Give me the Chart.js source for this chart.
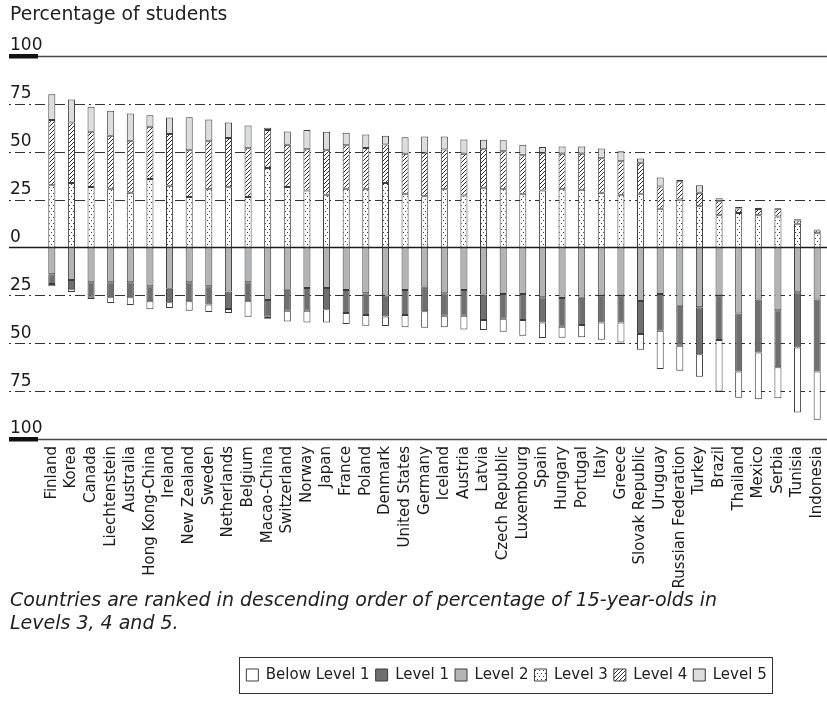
<!DOCTYPE html>
<html><head><meta charset="utf-8">
<style>html,body{margin:0;padding:0;background:#fff;}#wrap{width:827px;height:719px;}</style>
<script src="https://cdn.jsdelivr.net/npm/chart.js@4.4.0/dist/chart.umd.min.js"></script>
</head><body><div id="wrap"><canvas id="c" width="827" height="719"></canvas></div>
<script>
const countries = ['Finland','Korea','Canada','Liechtenstein','Australia','Hong Kong-China','Ireland','New Zealand','Sweden','Netherlands','Belgium','Macao-China','Switzerland','Norway','Japan','France','Poland','Denmark','United States','Germany','Iceland','Austria','Latvia','Czech Republic','Luxembourg','Spain','Hungary','Portugal','Italy','Greece','Slovak Republic','Uruguay','Russian Federation','Turkey','Brazil','Thailand','Mexico','Serbia','Tunisia','Indonesia'];
const level3 = [32.5,33.7,31.6,30.7,28.6,35.8,32.3,26.4,30.4,31.4,26.4,41.5,31.6,29.7,27.6,30.7,30.7,33.7,28.1,26.7,30.4,27.2,31.2,30.4,28.1,29.8,30.4,30.2,28.6,27.6,28.1,20.2,25.0,21.5,16.8,18.0,16.8,16.2,12.4,7.5];
const level4 = [34.0,31.6,28.8,27.6,27.1,27.2,26.9,24.4,25.1,25.8,25.4,19.8,22.0,21.6,23.2,22.7,21.3,20.1,20.9,22.7,20.7,21.8,20.1,19.9,20.1,19.6,18.6,18.8,18.0,17.4,16.2,11.7,9.6,7.1,7.3,2.4,3.3,4.0,1.7,1.4];
const level5 = [13.5,12.0,13.1,13.1,14.3,6.0,8.7,17.2,11.3,8.1,11.9,1.2,7.0,10.0,9.6,6.5,7.0,4.5,8.6,8.5,6.8,7.4,4.9,5.7,5.4,3.1,3.7,3.7,5.1,5.3,2.1,4.7,0.8,3.9,1.6,0.7,0.5,0.4,0.7,0.5];
const level2 = [14.0,17.0,18.2,18.2,18.2,20.2,21.6,18.2,20.2,23.0,18.2,27.4,22.0,21.1,21.1,22.2,23.9,25.1,22.2,20.4,23.9,22.2,24.5,24.3,24.3,26.0,26.4,26.2,25.1,25.1,27.9,24.3,30.4,31.2,25.1,34.4,27.1,32.8,23.4,27.2];
const level1 = [5.0,4.8,7.5,7.8,7.8,7.9,7.0,9.9,9.6,9.1,9.9,8.7,11.0,11.9,11.2,12.0,11.4,10.9,13.1,12.9,11.7,13.4,13.4,12.9,13.6,13.1,15.0,14.3,14.0,14.0,17.3,19.2,20.9,24.5,23.2,30.3,27.7,29.7,28.8,37.5];
const belowLevel1 = [1.2,1.4,1.2,3.0,4.0,4.2,3.0,4.9,3.9,2.1,8.0,1.1,5.6,6.1,6.8,5.8,5.5,5.0,6.4,8.6,6.1,7.2,5.2,6.8,8.2,8.2,5.7,6.4,9.1,10.5,8.2,20.0,13.1,11.8,26.9,13.7,24.4,16.2,34.0,25.3];
const yTickValues = [-100,-75,-50,-25,0,25,50,75,100];
const legendOrder = ['Below Level 1','Level 1','Level 2','Level 3','Level 4','Level 5'];
const titleText = 'Percentage of students';
const noteLines = ['Countries are ranked in descending order of percentage of 15-year-olds in','Levels 3, 4 and 5.'];

const FONT = "'DejaVu Sans', sans-serif";

function dotPattern(){
  const c = document.createElement('canvas'); c.width = 4; c.height = 6;
  const x = c.getContext('2d');
  x.fillStyle = '#ffffff'; x.fillRect(0,0,4,6);
  x.fillStyle = '#3a3a3a'; x.fillRect(1,1,1,1); x.fillRect(3,4,1,1);
  return x.createPattern(c,'repeat');
}
function hatchPattern(){
  const c = document.createElement('canvas'); c.width = 4; c.height = 4;
  const x = c.getContext('2d');
  x.fillStyle = '#ffffff'; x.fillRect(0,0,4,4);
  x.strokeStyle = '#303030'; x.lineWidth = 1;
  x.beginPath();
  x.moveTo(0,4); x.lineTo(4,0);
  x.moveTo(-1,1); x.lineTo(1,-1);
  x.moveTo(3,5); x.lineTo(5,3);
  x.stroke();
  return x.createPattern(c,'repeat');
}
const dots = dotPattern();
const hatch = hatchPattern();
const neg = a => a.map(v => -v);
const common = {borderColor:'#3c3c3c', borderWidth:1, borderSkipped:false, barPercentage:0.36, categoryPercentage:1};

const refPlugin = {
  id:'refPlugin',
  afterLayout(chart){
    const lg = chart.legend;
    if (lg){ const dx = 88; lg.left += dx; lg.right += dx; }
  },
  beforeDatasetsDraw(chart){
    const {ctx, chartArea:ca, scales:{y}} = chart;
    ctx.save();
    yTickValues.forEach(v => {
      const py = Math.round(y.getPixelForValue(v)) + 0.5;
      ctx.beginPath();
      if (v === 0){
        ctx.setLineDash([]); ctx.strokeStyle = '#1a1a1a'; ctx.lineWidth = 1.3;
        ctx.moveTo(9, py); ctx.lineTo(ca.right, py); ctx.stroke();
      } else if (Math.abs(v) === 100){
        ctx.setLineDash([]); ctx.strokeStyle = '#4a4a4a'; ctx.lineWidth = 1.3;
        ctx.moveTo(38, py); ctx.lineTo(ca.right, py); ctx.stroke();
        ctx.fillStyle = '#111'; ctx.fillRect(9, py - 2.5, 29, 4.5);
      } else {
        ctx.setLineDash([2,4,10,4]); ctx.strokeStyle = '#333'; ctx.lineWidth = 1.2;
        ctx.moveTo(9, py); ctx.lineTo(ca.right, py); ctx.stroke();
      }
    });
    ctx.restore();
  },
  afterDraw(chart){
    const lg = chart.legend;
    if (!lg || !lg.legendHitBoxes || !lg.legendHitBoxes.length) return;
    const hb = lg.legendHitBoxes;
    let l = Infinity, r = -Infinity, t = Infinity, b = -Infinity;
    hb.forEach(h => { l = Math.min(l, h.left); r = Math.max(r, h.left + h.width); t = Math.min(t, h.top); b = Math.max(b, h.top + h.height); });
    const ctx = chart.ctx;
    ctx.save();
    ctx.strokeStyle = '#333'; ctx.lineWidth = 1;
    ctx.strokeRect(Math.round(l - 7) + 0.5, Math.round(t - 10.5) + 0.5, Math.round(r - l + 13), Math.round(b - t + 21));
    ctx.restore();
  }
};

new Chart(document.getElementById('c'), {
  type:'bar',
  data:{
    labels: countries,
    datasets:[
      Object.assign({label:'Level 3', data:level3, backgroundColor:dots}, common),
      Object.assign({label:'Level 4', data:level4, backgroundColor:hatch}, common),
      Object.assign({label:'Level 5', data:level5, backgroundColor:'#dcdddd'}, common),
      Object.assign({label:'Level 2', data:neg(level2), backgroundColor:'#b2b4b5'}, common),
      Object.assign({label:'Level 1', data:neg(level1), backgroundColor:'#6f6f71'}, common),
      Object.assign({label:'Below Level 1', data:neg(belowLevel1), backgroundColor:'#ffffff'}, common)
    ]
  },
  options:{
    responsive:false,
    animation:false,
    events:[],
    devicePixelRatio:1,
    layout:{padding:{left:10, right:0, top:0, bottom:26.5}},
    scales:{
      x:{
        stacked:true,
        grid:{display:false, drawTicks:false},
        border:{display:false},
        ticks:{autoSkip:false, maxRotation:90, minRotation:90, padding:7, color:'#1a1a1a', font:{family:FONT, size:15}},
        afterFit(s){ s.height = 150; s.paddingLeft = 0; s.paddingRight = 0; }
      },
      y:{
        stacked:true,
        min:-100, max:100,
        grid:{display:false, drawTicks:false},
        border:{display:false},
        ticks:{stepSize:25, crossAlign:'far', labelOffset:-10, padding:2, color:'#1a1a1a', font:{family:FONT, size:17},
          callback:v => String(Math.abs(v))},
        afterFit(s){ s.width = 32; }
      }
    },
    plugins:{
      tooltip:{enabled:false},
      title:{display:true, text:titleText, align:'start', color:'#222', font:{family:FONT, size:18.8, weight:'normal', lineHeight:1.2}, padding:{top:4, bottom:29.4}},
      subtitle:{display:true, text:noteLines, position:'bottom', align:'start', weight:500, color:'#222', font:{family:FONT, size:19, style:'italic', weight:'normal', lineHeight:1.21}, padding:{top:1, bottom:25.5}},
      legend:{display:true, position:'bottom',
        labels:{color:'#222', font:{family:FONT, size:15}, boxWidth:12, boxHeight:12, padding:6,
          sort:(a,b) => legendOrder.indexOf(a.text) - legendOrder.indexOf(b.text)}}
    }
  },
  plugins:[refPlugin]
});
</script></body></html>
